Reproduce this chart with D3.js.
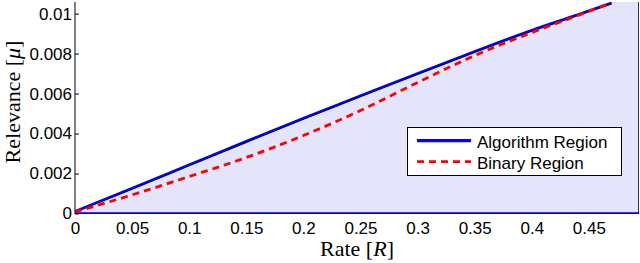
<!DOCTYPE html>
<html><head><meta charset="utf-8">
<script src="https://cdn.jsdelivr.net/npm/d3@7"></script>
<style>body{margin:0;background:#fff}svg{display:block}</style>
</head><body>
<svg id="c" width="640" height="263"></svg>
<script>
const rate = [0, 0.05, 0.1, 0.15, 0.2, 0.25, 0.3, 0.35, 0.4, 0.44, 0.47];
const algorithmRegion = [0.00012, 0.00128, 0.00245, 0.00362, 0.00478, 0.00590, 0.00702, 0.00812, 0.00918, 0.00995, 0.01055];
const binaryRegion = [0.00008, 0.00093, 0.00185, 0.00280, 0.00390, 0.00515, 0.00655, 0.00790, 0.00905, 0.00990, 0.01055];
const xTicks = [0, 0.05, 0.1, 0.15, 0.2, 0.25, 0.3, 0.35, 0.4, 0.45];
const yTicks = [0, 0.002, 0.004, 0.006, 0.008, 0.01];
const xMax = 0.4939, yMax = 0.01058;

const svg = d3.select("#c");
const x = d3.scaleLinear().domain([0, xMax]).range([75, 639]);
const y = d3.scaleLinear().domain([0, yMax]).range([213.5, 2]);
const sans = "'Liberation Sans', Arial, Helvetica, sans-serif";
const serif = "'Liberation Serif', 'Times New Roman', serif";

svg.append("clipPath").attr("id","clip").append("rect")
  .attr("x", 75).attr("y", 2).attr("width", 564).attr("height", 212);

const algo = rate.map((r,i)=>[r, algorithmRegion[i]]);
const bin = rate.map((r,i)=>[r, binaryRegion[i]]);
const line = d3.line().x(d=>x(d[0])).y(d=>y(d[1]));
const curve = d3.line().x(d=>x(d[0])).y(d=>y(d[1])).curve(d3.curveMonotoneX);

// filled region
const g = svg.append("g").attr("clip-path","url(#clip)");
const area = d3.area().x(d=>x(d[0])).y0(y(0)).y1(d=>y(d[1])).curve(d3.curveMonotoneX);
g.append("path").attr("d", area(algo)).attr("fill", "#e4e4fa").attr("stroke", "none");
g.append("path").attr("d", line([[algo[algo.length-1][0], 0], [algo[algo.length-1][0], yMax], [xMax, yMax], [xMax, 0]]) + "Z")
  .attr("fill", "#e4e4fa").attr("stroke", "#e4e4fa").attr("stroke-width", 0.8);
g.append("path").attr("d", curve(algo)).attr("fill","none").attr("stroke","#000").attr("stroke-width",1.2)
  .attr("transform","translate(0,1.2)");
g.append("line").attr("x1", x(xMax)-0.5).attr("x2", x(xMax)-0.5).attr("y1", 2).attr("y2", 214)
  .attr("stroke","#333").attr("stroke-width",1);

// axes
const yAxis = d3.axisLeft(y).tickValues(yTicks).tickSize(-4).tickPadding(6)
  .tickFormat(d => d === 0 ? "0" : d3.format("~g")(d));
const ya = svg.append("g").attr("transform","translate(75,0)").call(yAxis);
ya.select(".domain").attr("stroke","#000").attr("d","M0,2V214");
ya.selectAll("text").attr("font-family", sans).attr("font-size", 17).attr("fill","#000").attr("dx", 3);
ya.selectAll(".tick line").attr("stroke","#000");

const xAxis = d3.axisBottom(x).tickValues(xTicks).tickSize(0).tickPadding(8)
  .tickFormat(d => d === 0 ? "0" : d3.format("~g")(d));
const xa = svg.append("g").attr("transform","translate(0,213.5)").call(xAxis);
xa.select(".domain").remove();
xa.selectAll("text").attr("font-family", sans).attr("font-size", 17).attr("fill","#000");

// data lines
g.append("path").attr("d", line([[0,0],[xMax,0]])).attr("stroke","#0000dd").attr("stroke-width",2.5).attr("fill","none");
g.append("path").attr("d", curve(algo)).attr("fill","none").attr("stroke","#0000f0").attr("stroke-width",2.2);
g.append("path").attr("d", curve(bin)).attr("fill","none").attr("stroke","#ff0000").attr("stroke-width",2.8)
  .attr("stroke-dasharray","7,5");

// titles
svg.append("text").attr("x", 357).attr("y", 256).attr("text-anchor","middle")
  .attr("font-family", serif).attr("font-size", 22)
  .html('Rate [<tspan font-style="italic">R</tspan>]');
svg.append("text").attr("transform","translate(20,102) rotate(-90)").attr("text-anchor","middle")
  .attr("font-family", serif).attr("font-size", 22)
  .html('Relevance [<tspan font-style="italic">μ</tspan>]');

// legend
const lg = svg.append("g");
lg.append("rect").attr("x", 407.5).attr("y", 127.5).attr("width", 214).attr("height", 48)
  .attr("fill","#fff").attr("stroke","#000").attr("stroke-width",1);
const entries = [{name:"Algorithm Region", color:"#0000ff", dash:null, w:3.2},
                 {name:"Binary Region", color:"#ff0000", dash:"7,5", w:2.8}];
entries.forEach((e,i)=>{
  const yy = 140.7 + i*21;
  lg.append("line").attr("x1",417).attr("x2",471).attr("y1",yy).attr("y2",yy)
    .attr("stroke", e.color).attr("stroke-width", e.w).attr("stroke-dasharray", e.dash);
  lg.append("text").attr("x", 477).attr("y", yy+7.5).attr("font-family", sans).attr("font-size", 17)
    .attr("fill","#000").text(e.name);
});
</script>
</body></html>
